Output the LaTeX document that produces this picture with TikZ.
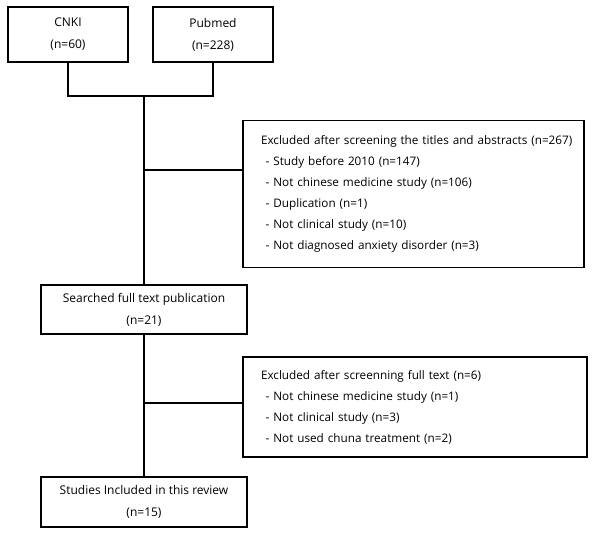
\documentclass[tikz,border=0pt]{standalone}
\usepackage{fontspec}
\setmainfont{Open Sans}
\usepackage{tikz}

\tikzset{
  flowbox/.style={draw, line width=0.8pt, align=center, inner sep=0pt,
    font=\fontsize{9}{16.5}\selectfont},
  exclbox/.style={draw, line width=0.8pt, align=left, inner xsep=6pt, inner ysep=0pt,
    font=\fontsize{8.8}{15.75}\selectfont},
  link/.style={line width=0.8pt}
}

\begin{document}
\begin{tikzpicture}[x=0.75pt, y=-0.75pt]
    \useasboundingbox (0, 0) rectangle (593, 537);

    \node[flowbox, minimum width=90pt, minimum height=41.25pt] (cnki) at (68, 34.5) {CNKI\\(n=60)};
    \node[flowbox, minimum width=90pt, minimum height=41.25pt] (pubmed) at (213, 34.5) {Pubmed\\(n=228)};

    \node[exclbox, text width=243.75pt, minimum height=110.25pt] (excl1) at (413.5, 194)
      {\hspace*{7.5pt}Excluded after screening the titles and abstracts (n=267)\\
       \hspace*{11pt}- Study before 2010 (n=147)\\
       \hspace*{11pt}- Not chinese medicine study (n=106)\\
       \hspace*{11pt}- Duplication (n=1)\\
       \hspace*{11pt}- Not clinical study (n=10)\\
       \hspace*{11pt}- Not diagnosed anxiety disorder (n=3)};

    \node[flowbox, minimum width=154.5pt, minimum height=36.75pt] (search) at (144, 309.5) {Searched full text publication\\(n=21)};

    \node[exclbox, text width=246pt, minimum height=75pt] (excl2) at (415, 407)
      {\hspace*{7.5pt}Excluded after screenning full text (n=6)\\
       \hspace*{11pt}- Not chinese medicine study (n=1)\\
       \hspace*{11pt}- Not clinical study (n=3)\\
       \hspace*{11pt}- Not used chuna treatment (n=2)};

    \node[flowbox, minimum width=154.5pt, minimum height=37.5pt] (studies) at (144, 502) {Studies Included in this review\\(n=15)};

    \coordinate (j1) at (144, 96);
    \coordinate (b1) at (144, 170);
    \coordinate (b2) at (144, 403);

    \draw[link] (cnki.south) |- (j1) -| (pubmed.south);
    \draw[link] (j1) -- (search.north);
    \draw[link] (b1) -- (b1 -| excl1.west);
    \draw[link] (search.south) -- (studies.north);
    \draw[link] (b2) -- (b2 -| excl2.west);
  \end{tikzpicture}
\end{document}
